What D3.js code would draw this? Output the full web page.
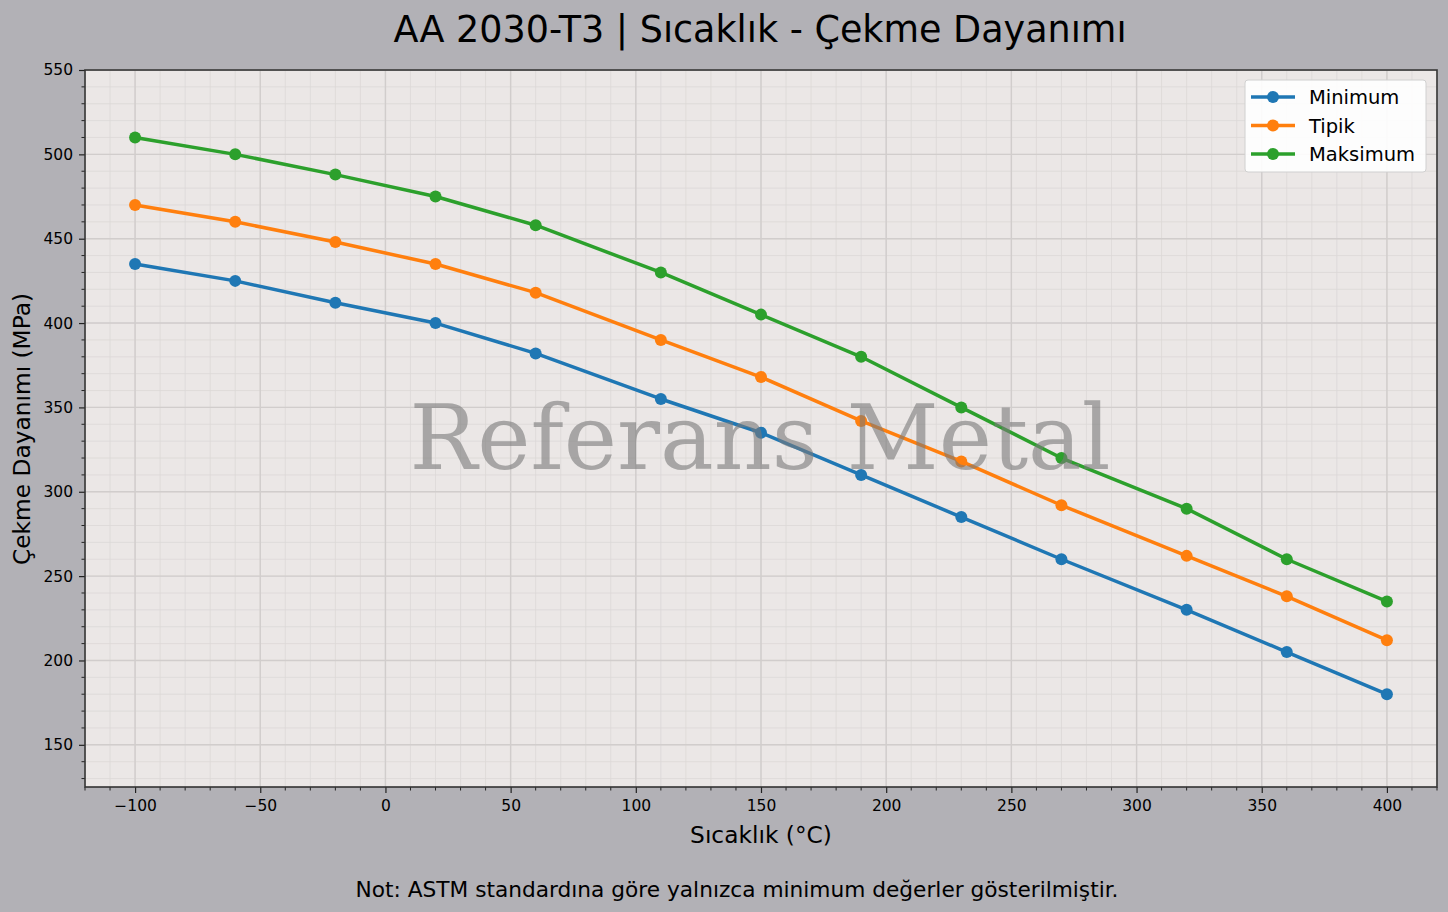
<!DOCTYPE html>
<html><head><meta charset="utf-8">
<script src="https://cdn.jsdelivr.net/npm/d3@7"></script>
<style>body{margin:0;background:#b2b1b6;} svg{display:block;font-family:"DejaVu Sans",sans-serif;}</style>
</head><body>
<svg id="c" width="1448" height="912"></svg>
<script>
const temps = [-100, -60, -20, 20, 60, 110, 150, 190, 230, 270, 320, 360, 400];
const minimum = [435, 425, 412, 400, 382, 355, 335, 310, 285, 260, 230, 205, 180];
const tipik = [470, 460, 448, 435, 418, 390, 368, 342, 318, 292, 262, 238, 212];
const maksimum = [510, 500, 488, 475, 458, 430, 405, 380, 350, 320, 290, 260, 235];
const seriesNames = ["Minimum", "Tipik", "Maksimum"];
const seriesColors = ["#1f77b4", "#ff7f0e", "#2ca02c"];
const xTicks = [-100, -50, 0, 50, 100, 150, 200, 250, 300, 350, 400];
const yTicks = [150, 200, 250, 300, 350, 400, 450, 500, 550];

const svg = d3.select("#c");
const L = 85, R = 1437, T = 70, B = 787;
const x = d3.scaleLinear().domain([-120, 420]).range([L, R]);
const y = d3.scaleLinear().domain([125, 550]).range([B, T]);

svg.append("rect").attr("width",1448).attr("height",912).attr("fill","#b2b1b6");
svg.append("rect").attr("x",L).attr("y",T).attr("width",R-L).attr("height",B-T).attr("fill","#ebe7e6");

const g = svg.append("g");
const xMinor = d3.range(-120, 421, 10);
const yMinor = d3.range(130, 551, 10);
g.selectAll(".xm").data(xMinor).enter().append("line")
  .attr("x1",d=>x(d)).attr("x2",d=>x(d)).attr("y1",T).attr("y2",B)
  .attr("stroke","#dcd8d7").attr("stroke-width",0.8);
g.selectAll(".ym").data(yMinor).enter().append("line")
  .attr("y1",d=>y(d)).attr("y2",d=>y(d)).attr("x1",L).attr("x2",R)
  .attr("stroke","#dcd8d7").attr("stroke-width",0.8);
g.selectAll(".xg").data(xTicks).enter().append("line")
  .attr("x1",d=>x(d)).attr("x2",d=>x(d)).attr("y1",T).attr("y2",B)
  .attr("stroke","#d1cdcc").attr("stroke-width",1.4);
g.selectAll(".yg").data(yTicks).enter().append("line")
  .attr("y1",d=>y(d)).attr("y2",d=>y(d)).attr("x1",L).attr("x2",R)
  .attr("stroke","#d1cdcc").attr("stroke-width",1.4);

const allSeries = [minimum, tipik, maksimum];
const line = d3.line().x((d,i)=>x(temps[i])).y(d=>y(d));
allSeries.forEach((s, k) => {
  svg.append("path").datum(s).attr("d", line).attr("fill","none")
    .attr("stroke", seriesColors[k]).attr("stroke-width",3.5).attr("stroke-linejoin","round").attr("stroke-linecap","square");
  svg.selectAll(".p"+k).data(s).enter().append("circle")
    .attr("cx",(d,i)=>x(temps[i])).attr("cy",d=>y(d)).attr("r",6).attr("fill",seriesColors[k]);
});

svg.append("text").attr("x",(L+R)/2 - 1).attr("y",469).attr("text-anchor","middle")
  .attr("font-family","DejaVu Serif, serif").attr("font-size",90).attr("fill","#7a7a7a").attr("fill-opacity",0.6)
  .text("Referans Metal");

const xAxis = d3.axisBottom(x).tickValues(xTicks).tickSize(6).tickPadding(7).tickFormat(d=>d<0?"\u2212"+Math.abs(d):d);
const gx = svg.append("g").attr("transform",`translate(0,${B})`).call(xAxis);
const yAxis = d3.axisLeft(y).tickValues(yTicks).tickSize(6).tickPadding(6);
const gy = svg.append("g").attr("transform",`translate(${L},0)`).call(yAxis);
[gx, gy].forEach(a => {
  a.select(".domain").remove();
  a.attr("font-size",15.5).attr("font-family","DejaVu Sans");
  a.selectAll(".tick line").attr("stroke","#222").attr("stroke-width",1.2);
  a.selectAll(".tick text").attr("font-size",15.5).attr("fill","#000");
});
svg.selectAll(".xmt").data(xMinor.filter(d=>!xTicks.includes(d))).enter().append("line")
  .attr("x1",d=>x(d)).attr("x2",d=>x(d)).attr("y1",B).attr("y2",B+3.5).attr("stroke","#222").attr("stroke-width",1);
svg.selectAll(".ymt").data(yMinor.filter(d=>!yTicks.includes(d))).enter().append("line")
  .attr("y1",d=>y(d)).attr("y2",d=>y(d)).attr("x1",L).attr("x2",L-3.5).attr("stroke","#222").attr("stroke-width",1);

svg.append("rect").attr("x",L).attr("y",T).attr("width",R-L).attr("height",B-T)
  .attr("fill","none").attr("stroke","#333").attr("stroke-width",1.6);

svg.append("text").attr("x",760).attr("y",42).attr("text-anchor","middle").attr("font-size",36.5).attr("fill","#000")
  .text("AA 2030-T3 | Sıcaklık - Çekme Dayanımı");
svg.append("text").attr("x",761).attr("y",843).attr("text-anchor","middle").attr("font-size",23.3).attr("fill","#000")
  .text("Sıcaklık (°C)");
svg.append("text").attr("transform","translate(30,429) rotate(-90)").attr("text-anchor","middle").attr("font-size",23.3).attr("fill","#000")
  .text("Çekme Dayanımı (MPa)");
svg.append("text").attr("x",737).attr("y",897).attr("text-anchor","middle").attr("font-size",21.7).attr("fill","#000")
  .text("Not: ASTM standardına göre yalnızca minimum değerler gösterilmiştir.");

const lg = svg.append("g").attr("transform","translate(1245,80)");
lg.append("rect").attr("width",181).attr("height",92).attr("rx",3).attr("fill","#ffffff").attr("fill-opacity",0.9)
  .attr("stroke","#d0d0d0").attr("stroke-width",1);
seriesNames.forEach((n,k)=>{
  const yy = 17 + k*28.5;
  lg.append("line").attr("x1",6).attr("x2",50).attr("y1",yy).attr("y2",yy).attr("stroke",seriesColors[k]).attr("stroke-width",3.5);
  lg.append("circle").attr("cx",28).attr("cy",yy).attr("r",6).attr("fill",seriesColors[k]);
  lg.append("text").attr("x",64).attr("y",yy+7).attr("font-size",19.5).attr("fill","#000").text(n);
});
</script>
</body></html>
